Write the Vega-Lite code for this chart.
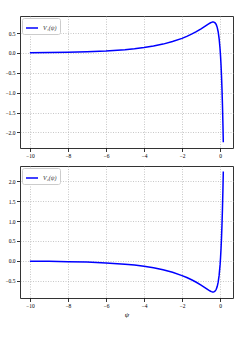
{
  "$schema": "https://vega.github.io/schema/vega-lite/v6.json",
  "padding": {"left": 4, "top": 15, "right": 4, "bottom": 4},
  "background": "white",
  "data": {"values": [
    {"psi": -10, "v1": 0.0067, "v2": -0.0067},
    {"psi": -9, "v1": 0.0111, "v2": -0.0111},
    {"psi": -8, "v1": 0.0183, "v2": -0.0183},
    {"psi": -7, "v1": 0.0302, "v2": -0.0302},
    {"psi": -6, "v1": 0.0498, "v2": -0.0498},
    {"psi": -5, "v1": 0.0821, "v2": -0.0821},
    {"psi": -4.5, "v1": 0.1054, "v2": -0.1054},
    {"psi": -4, "v1": 0.1353, "v2": -0.1353},
    {"psi": -3.5, "v1": 0.1738, "v2": -0.1738},
    {"psi": -3, "v1": 0.2231, "v2": -0.2231},
    {"psi": -2.5, "v1": 0.2865, "v2": -0.2865},
    {"psi": -2, "v1": 0.3679, "v2": -0.3679},
    {"psi": -1.75, "v1": 0.4169, "v2": -0.4169},
    {"psi": -1.5, "v1": 0.4724, "v2": -0.4724},
    {"psi": -1.25, "v1": 0.5352, "v2": -0.5352},
    {"psi": -1, "v1": 0.6061, "v2": -0.6061},
    {"psi": -0.9, "v1": 0.6367, "v2": -0.6367},
    {"psi": -0.8, "v1": 0.6684, "v2": -0.6684},
    {"psi": -0.7, "v1": 0.7006, "v2": -0.7006},
    {"psi": -0.6, "v1": 0.7319, "v2": -0.7319},
    {"psi": -0.5, "v1": 0.7597, "v2": -0.7597},
    {"psi": -0.45, "v1": 0.7703, "v2": -0.7703},
    {"psi": -0.4, "v1": 0.7773, "v2": -0.7773},
    {"psi": -0.35, "v1": 0.7787, "v2": -0.7787},
    {"psi": -0.3, "v1": 0.7714, "v2": -0.7714},
    {"psi": -0.25, "v1": 0.7512, "v2": -0.7512},
    {"psi": -0.2, "v1": 0.7119, "v2": -0.7119},
    {"psi": -0.15, "v1": 0.6442, "v2": -0.6442},
    {"psi": -0.1, "v1": 0.5345, "v2": -0.5345},
    {"psi": -0.05, "v1": 0.3629, "v2": -0.3629},
    {"psi": 0, "v1": 0.1, "v2": -0.1},
    {"psi": 0.025, "v1": -0.0785, "v2": 0.0785},
    {"psi": 0.05, "v1": -0.2973, "v2": 0.2973},
    {"psi": 0.075, "v1": -0.5652, "v2": 0.5652},
    {"psi": 0.1, "v1": -0.8925, "v2": 0.8925},
    {"psi": 0.125, "v1": -1.2919, "v2": 1.2919},
    {"psi": 0.15, "v1": -1.7786, "v2": 1.7786},
    {"psi": 0.17, "v1": -2.2435, "v2": 2.2435}
  ]},
  "config": {
    "font": "Liberation Serif",
    "view": {"stroke": "#333333", "strokeWidth": 1},
    "axis": {
      "domain": false,
      "grid": true,
      "gridColor": "#b0b0b0",
      "gridDash": [1, 1.5],
      "gridWidth": 0.7,
      "tickColor": "#000000",
      "tickSize": 3.5,
      "tickWidth": 0.8,
      "labelFont": "Liberation Serif",
      "labelFontSize": 5.5,
      "labelColor": "#000000",
      "labelPadding": 1.5
    },
    "legend": {
      "orient": "top-left",
      "offset": 2,
      "padding": 3,
      "fillColor": "white",
      "strokeColor": "#cccccc",
      "cornerRadius": 2,
      "symbolType": "stroke",
      "symbolSize": 144,
      "symbolStrokeWidth": 1.5,
      "labelFont": "Liberation Serif",
      "labelFontStyle": "italic",
      "labelFontSize": 6,
      "labelColor": "#333333",
      "title": null
    }
  },
  "spacing": 6,
  "resolve": {"scale": {"color": "independent", "x": "independent", "y": "independent"}, "legend": {"color": "independent"}},
  "vconcat": [
    {
      "width": 213,
      "height": 132,
      "mark": {"type": "line", "strokeWidth": 1.5, "clip": true},
      "encoding": {
        "x": {"field": "psi", "type": "quantitative", "scale": {"domain": [-10.52, 0.68], "nice": false, "zero": false}, "axis": {"values": [-10, -8, -6, -4, -2, 0], "format": "d", "title": null}},
        "y": {"field": "v1", "type": "quantitative", "scale": {"domain": [-2.39, 0.93], "nice": false, "zero": false}, "axis": {"values": [-2, -1.5, -1, -0.5, 0, 0.5], "format": ".1f", "title": null}},
        "color": {"datum": "V₁(ψ)", "type": "nominal", "scale": {"range": ["#0000ff"]}, "legend": {"title": null}}
      }
    },
    {
      "width": 213,
      "height": 132,
      "mark": {"type": "line", "strokeWidth": 1.5, "clip": true},
      "encoding": {
        "x": {"field": "psi", "type": "quantitative", "scale": {"domain": [-10.52, 0.68], "nice": false, "zero": false}, "axis": {"values": [-10, -8, -6, -4, -2, 0], "format": "d", "title": "ψ", "titleFont": "Liberation Serif", "titleFontStyle": "italic", "titleFontWeight": "normal", "titleFontSize": 7, "titlePadding": 2}},
        "y": {"field": "v2", "type": "quantitative", "scale": {"domain": [-0.93, 2.38], "nice": false, "zero": false}, "axis": {"values": [-0.5, 0, 0.5, 1, 1.5, 2], "format": ".1f", "title": null}},
        "color": {"datum": "V₂(ψ)", "type": "nominal", "scale": {"range": ["#0000ff"]}, "legend": {"title": null}}
      }
    }
  ]
}
